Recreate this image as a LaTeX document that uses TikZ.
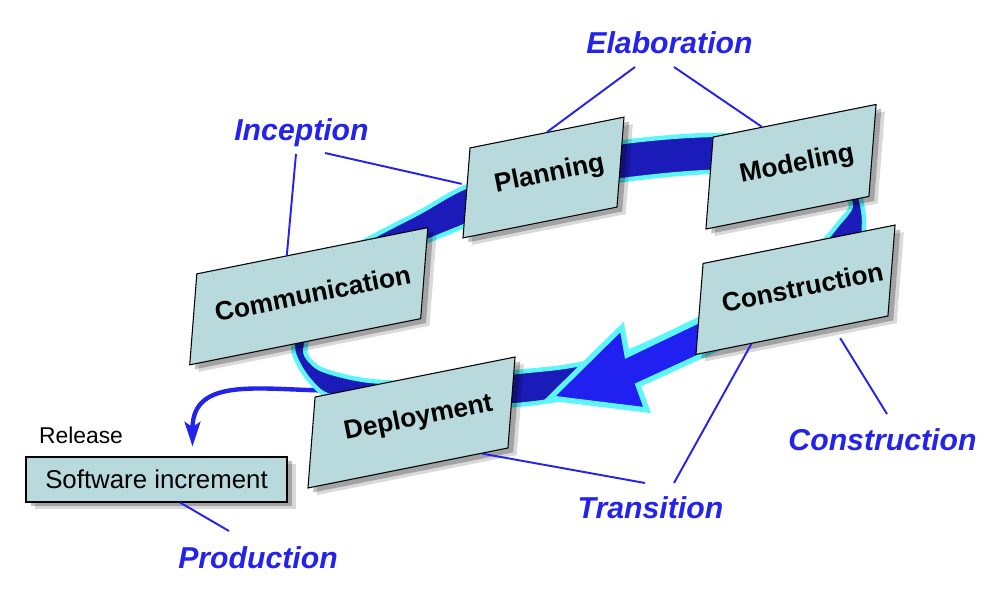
\documentclass[tikz,border=0pt]{standalone}
\usepackage{fontspec}
\setmainfont{Liberation Sans}
\usetikzlibrary{positioning,calc,shadows,arrows.meta}

\definecolor{boxfill}{RGB}{184,218,220}
\definecolor{lblue}{RGB}{35,35,235}
\definecolor{ringdark}{RGB}{27,27,185}
\definecolor{headblue}{RGB}{32,32,240}
\definecolor{ringcyan}{RGB}{92,245,250}

\pgfdeclarelayer{back}
\pgfsetlayers{back,main}

\begin{document}
\begin{tikzpicture}[x=0.02cm,y=-0.02cm,
    phase/.style={draw,line width=0.6pt,fill=boxfill,inner sep=0pt,cm={1,0.2,0.078,1,(0,0)},
        drop shadow={shadow xshift=5pt,shadow yshift=-4pt,opacity=0.15,fill=black},
        drop shadow={shadow xshift=3pt,shadow yshift=-2.5pt,opacity=0.25,fill=black}},
    phasetext/.style={inner sep=0pt,rotate=11.3,font=\fontsize{15}{18}\selectfont\bfseries},
    plainbox/.style={draw,line width=0.6pt,fill=boxfill,inner sep=0pt,
        font=\fontsize{14.7}{17}\selectfont,
        drop shadow={shadow xshift=5pt,shadow yshift=-4pt,opacity=0.15,fill=black},
        drop shadow={shadow xshift=3pt,shadow yshift=-2.5pt,opacity=0.25,fill=black}},
    stage/.style={anchor=base,inner sep=0pt,text=lblue,font=\fontsize{17.2}{20}\selectfont\bfseries\itshape},
    leader/.style={lblue,line width=1.1pt},
    release/.style={lblue,line width=2.5pt,-{Stealth[length=14pt,width=9pt,inset=3pt]}}]
    \useasboundingbox (0,0) rectangle (1002,592);

    \node[phase,minimum width=4.62cm,minimum height=1.82cm] (comm) at (308.75,296.25) {};
    \node[phase,minimum width=3.08cm,minimum height=1.8cm] (plan) at (543.5,177.5) {};
    \node[phase,minimum width=3.26cm,minimum height=1.84cm] (model) at (791,166.75) {};
    \node[phase,minimum width=3.84cm,minimum height=1.82cm] (cons) at (795.5,289.75) {};
    \node[phase,minimum width=4cm,minimum height=1.82cm] (deploy) at (411.5,422.5) {};
    \node[phasetext] (commtext) at ($(comm)+(4,-3)$) {Communication};
    \node[phasetext] (plantext) at ($(plan)+(6,-3)$) {Planning};
    \node[phasetext] (modeltext) at ($(model)+(6,-2)$) {Modeling};
    \node[phasetext] (constext) at ($(cons)+(7,-3)$) {Construction};
    \node[phasetext] (deploytext) at ($(deploy)+(7,-4)$) {Deployment};
    \node[plainbox,minimum width=5.22cm,minimum height=0.9cm] (soft) at (156.5,479.5) {Software increment};
    \node[anchor=base,inner sep=0pt,font=\fontsize{13}{15}\selectfont] (rel) at (81,443) {Release};

    \node[stage] (elab) at (669.5,53) {Elaboration};
    \node[stage] (incep) at (301.5,140) {Inception};
    \node[stage] (conslab) at (882.5,450) {Construction};
    \node[stage] (trans) at (650.5,518) {Transition};
    \node[stage] (prod) at (258,568) {Production};

    \draw[leader] ($(elab.base)+(-34.5,14)$) -- (plan.north);
    \draw[leader] ($(elab.base)+(4.5,14)$) -- ($(model.north west)!0.3!(model.north east)$);
    \draw[leader] ($(incep.base)+(-5.5,14)$) -- ($(comm.north west)!0.39!(comm.north east)$);
    \draw[leader] ($(incep.base)+(23.5,13)$) -- ($(plan.north west)!0.4!(plan.south west)+(-5,0)$);
    \draw[leader] ($(conslab.base)+(4.5,-36)$) -- ($(cons.south west)!0.75!(cons.south east)+(0,12)$);
    \draw[leader] ($(trans.base)+(23.5,-35)$) -- ($(cons.south west)!0.29!(cons.south east)$);
    \draw[leader] ($(trans.base)+(-5.5,-35)$) -- ($(deploy.south west)!0.87!(deploy.south east)$);
    \draw[leader] ($(prod.base)+(-29,-37)$) -- ($(soft.south west)!0.59!(soft.south east)$);

    \begin{pgfonlayer}{back}
    \draw[release] ($(deploy.north west)+(20,-6)$) to[out=180,in=90,looseness=1.2] ($(soft.north)+(36,-10)$);
    \filldraw[fill=ringdark,draw=ringcyan,line width=2.5pt,even odd rule]
        plot[smooth cycle] coordinates {(293,345) (300,300) (330,262) (370,238) (420,212) (463,188)
            (540,158) (623,142) (713,135) (790,142) (840,160) (858,190) (864,222) (856,248)
            (800,305) (745,335) (698,357) (643,380) (580,396) (517,405) (440,408) (370,403)
            (327,395) (310,381) (298,363)}
        plot[smooth cycle] coordinates {(306,345) (320,300) (360,270) (430,240) (462,227) (540,195)
            (623,180) (710,172) (790,176) (835,188) (851,205) (838,224) (820,244) (780,272)
            (730,302) (697,320) (627,352) (570,366) (517,372) (460,379) (413,383) (363,380)
            (323,370) (308,358)};
    \filldraw[fill=headblue,draw=ringcyan,line width=3pt,line join=miter]
        (725,308) -- (627,355) -- (622,327) -- (550,398) -- (647,410) -- (638,385) -- (725,345) -- cycle;
    \end{pgfonlayer}
\end{tikzpicture}
\end{document}
